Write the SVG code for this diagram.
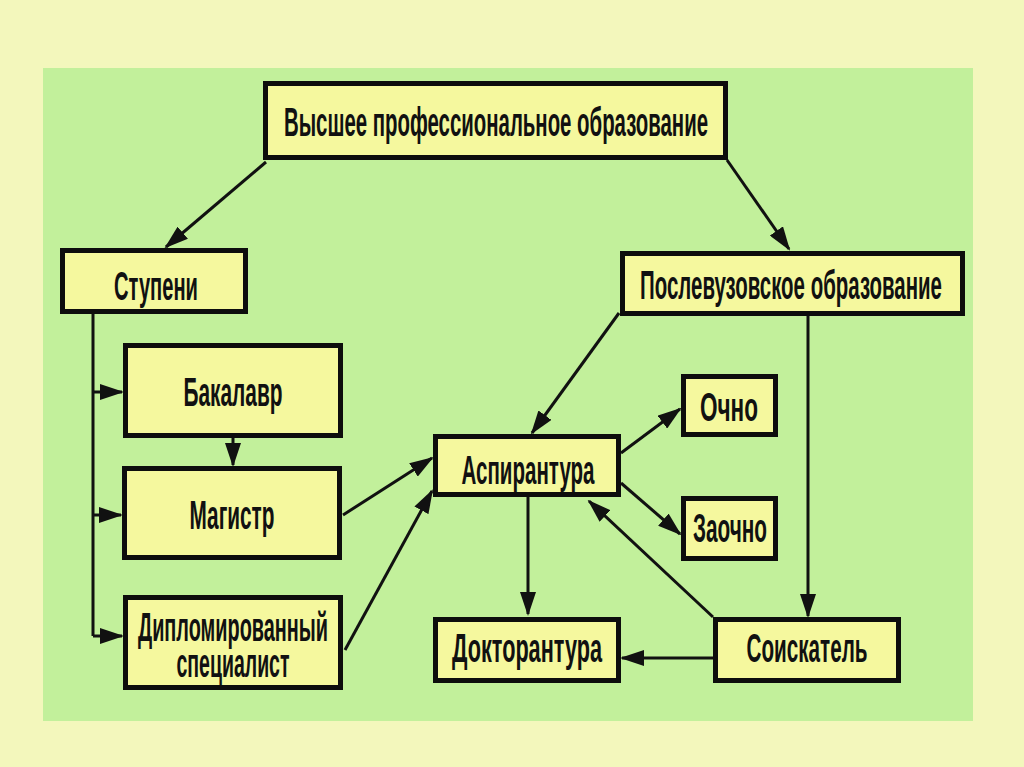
<svg xmlns="http://www.w3.org/2000/svg" width="1024" height="767" viewBox="0 0 1024 767">
<style>
.box{fill:#f5f89e;stroke:#0d0d0d;stroke-width:5}
.lbl{font-family:"Liberation Sans",Arial,sans-serif;font-weight:bold;font-size:40px;fill:#111;text-anchor:middle}
.ln{stroke:#111;stroke-width:3;fill:none}
.ar{stroke:#111;stroke-width:3;fill:none;marker-end:url(#ah)}
</style>
<defs>
<marker id="ah" markerUnits="userSpaceOnUse" viewBox="0 0 24 16" markerWidth="24" markerHeight="16" refX="22" refY="8" orient="auto">
<path d="M0,0 L24,8 L0,16 z" fill="#111"/>
</marker>
</defs>
<rect x="0" y="0" width="1024" height="767" fill="#f3f7bc"/>
<rect x="43" y="68" width="930" height="653" fill="#c2f09b"/>
<g id="connectors">
<path class="ar" d="M266,162 L166,247"/>
<path class="ar" d="M727,160 L789,249"/>
<path class="ln" d="M93,314 L93,636"/>
<path class="ar" d="M93,392 L122,392"/>
<path class="ar" d="M93,515 L121,515"/>
<path class="ar" d="M93,636 L122,636"/>
<path class="ar" d="M233,438 L233,465"/>
<path class="ar" d="M343,515 L432,458"/>
<path class="ar" d="M345,650 L432,491"/>
<path class="ar" d="M619,313 L532,433"/>
<path class="ar" d="M621,453 L680,409"/>
<path class="ar" d="M621,483 L680,534"/>
<path class="ar" d="M808,316 L808,616"/>
<path class="ar" d="M528,497 L528,614"/>
<path class="ar" d="M713,617 L589,501"/>
<path class="ar" d="M713,658 L622,658"/>
</g>
<g id="n-vpo">
<rect class="box" x="265.5" y="83.5" width="460" height="74"/>
<text class="lbl" x="496" y="136" textLength="424" lengthAdjust="spacingAndGlyphs">Высшее профессиональное образование</text>
</g>
<g id="n-stupeni">
<rect class="box" x="62.5" y="250.5" width="183" height="61"/>
<text class="lbl" x="156" y="300" textLength="84" lengthAdjust="spacingAndGlyphs">Ступени</text>
</g>
<g id="n-posle">
<rect class="box" x="622.5" y="253.5" width="340" height="60"/>
<text class="lbl" x="791" y="299" textLength="302" lengthAdjust="spacingAndGlyphs">Послевузовское образование</text>
</g>
<g id="n-bakalavr">
<rect class="box" x="125.5" y="345.5" width="215" height="90"/>
<text class="lbl" x="233" y="406" textLength="99" lengthAdjust="spacingAndGlyphs">Бакалавр</text>
</g>
<g id="n-magistr">
<rect class="box" x="124.5" y="468.5" width="215" height="89"/>
<text class="lbl" x="232" y="529" textLength="85" lengthAdjust="spacingAndGlyphs">Магистр</text>
</g>
<g id="n-diplom">
<rect class="box" x="125.5" y="597.5" width="215" height="90"/>
<text class="lbl" x="233" y="641" textLength="190" lengthAdjust="spacingAndGlyphs">Дипломированный</text>
<text class="lbl" x="233" y="677" textLength="113" lengthAdjust="spacingAndGlyphs">специалист</text>
</g>
<g id="n-aspir">
<rect class="box" x="435.5" y="436.5" width="183" height="58"/>
<text class="lbl" x="528" y="484" textLength="133" lengthAdjust="spacingAndGlyphs">Аспирантура</text>
</g>
<g id="n-ochno">
<rect class="box" x="683.5" y="376.5" width="92" height="58"/>
<text class="lbl" x="729" y="421" textLength="58" lengthAdjust="spacingAndGlyphs">Очно</text>
</g>
<g id="n-zaochno">
<rect class="box" x="683.5" y="498.5" width="92" height="60"/>
<text class="lbl" x="730" y="542" textLength="74" lengthAdjust="spacingAndGlyphs">Заочно</text>
</g>
<g id="n-doktor">
<rect class="box" x="435.5" y="619.5" width="183" height="61"/>
<text class="lbl" x="527" y="662" textLength="150" lengthAdjust="spacingAndGlyphs">Докторантура</text>
</g>
<g id="n-soisk">
<rect class="box" x="715.5" y="619.5" width="183" height="61"/>
<text class="lbl" x="807" y="662" textLength="121" lengthAdjust="spacingAndGlyphs">Соискатель</text>
</g>
</svg>
